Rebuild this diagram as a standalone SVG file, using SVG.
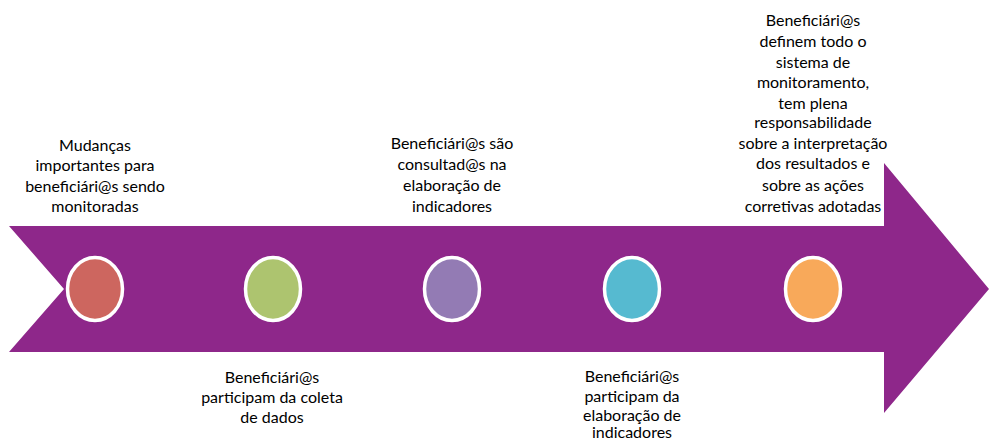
<svg xmlns="http://www.w3.org/2000/svg" width="989" height="440" viewBox="0 0 989 440">
<style>
.t{font-family:Lato,"Open Sans","Liberation Sans",sans-serif;font-size:16px;fill:#000;text-anchor:middle}
.c{stroke:#fff;stroke-width:3.5}
</style>
<rect width="989" height="440" fill="#fff"/>
<g id="arrow">
<polygon points="9,226 884,226 884,163 989,289 884,413 884,352 9,352 64,289" fill="#8E278A"/>
</g>
<g id="node1"><ellipse class="c" cx="95" cy="289" rx="27.5" ry="31.5" fill="#CD665F"/>
<text class="t"><tspan x="95" y="151">Mudanças</tspan><tspan x="95" y="171">importantes para</tspan><tspan x="95" y="192">beneficiári@s sendo</tspan><tspan x="95" y="212">monitoradas</tspan></text></g>
<g id="node2"><ellipse class="c" cx="273" cy="289" rx="27.5" ry="31.5" fill="#ADC46F"/>
<text class="t"><tspan x="272" y="383">Beneficiári@s</tspan><tspan x="272" y="403">participam da coleta</tspan><tspan x="272" y="423">de dados</tspan></text></g>
<g id="node3"><ellipse class="c" cx="452" cy="289" rx="27.5" ry="31.5" fill="#937BB4"/>
<text class="t"><tspan x="452" y="149">Beneficiári@s são</tspan><tspan x="452" y="170">consultad@s na</tspan><tspan x="452" y="191">elaboração de</tspan><tspan x="452" y="212">indicadores</tspan></text></g>
<g id="node4"><ellipse class="c" cx="632" cy="289" rx="27.5" ry="31.5" fill="#56BAD0"/>
<text class="t"><tspan x="632" y="382">Beneficiári@s</tspan><tspan x="632" y="402">participam da</tspan><tspan x="632" y="421">elaboração de</tspan><tspan x="632" y="438">indicadores</tspan></text></g>
<g id="node5"><ellipse class="c" cx="813" cy="289" rx="27.5" ry="31.5" fill="#F8A95A"/>
<text class="t"><tspan x="813" y="26">Beneficiári@s</tspan><tspan x="813" y="47">definem todo o</tspan><tspan x="813" y="68">sistema de</tspan><tspan x="813" y="88">monitoramento,</tspan><tspan x="813" y="109">tem plena</tspan><tspan x="813" y="128">responsabilidade</tspan><tspan x="813" y="149">sobre a interpretação</tspan><tspan x="813" y="169">dos resultados e</tspan><tspan x="813" y="191">sobre as  ações</tspan><tspan x="813" y="212">corretivas adotadas</tspan></text></g>
</svg>
